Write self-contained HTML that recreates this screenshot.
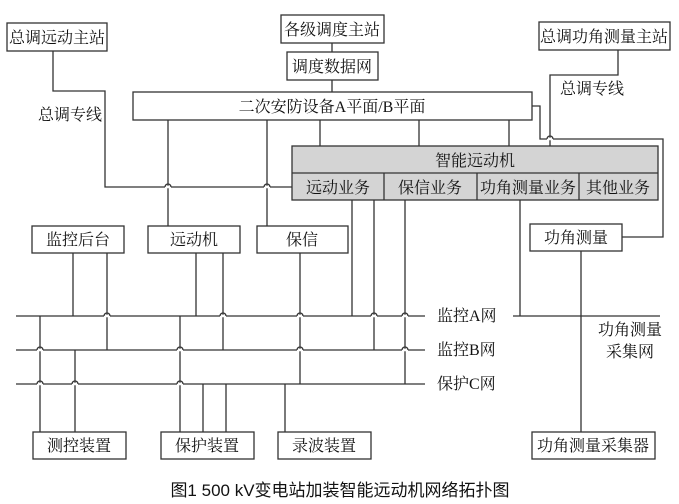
<!DOCTYPE html>
<html><head><meta charset="utf-8"><style>
html,body{margin:0;padding:0;background:#fff;}
svg{display:block;}
text{font-family:"Liberation Serif","Noto Serif CJK SC",serif;font-size:16px;fill:#111;}
.cap{font-family:"Liberation Sans","Noto Sans CJK SC",sans-serif;font-size:17px;}
</style></head><body>
<svg width="679" height="504" viewBox="0 0 679 504" xmlns="http://www.w3.org/2000/svg">
<g stroke="#333" stroke-width="1.3" fill="none">
<rect x="7" y="23" width="100" height="28" fill="#fff"/>
<rect x="281" y="15" width="103" height="28" fill="#fff"/>
<rect x="287" y="52" width="91" height="28" fill="#fff"/>
<rect x="539" y="22" width="131" height="28" fill="#fff"/>
<rect x="133" y="92" width="399" height="28" fill="#fff"/>
<line x1="332" y1="43" x2="332" y2="52"/>
<line x1="332" y1="80" x2="332" y2="92"/>
<polyline points="53,51 53,91 105,91 105,187 292,187"/>
<line x1="168" y1="120" x2="168" y2="226"/>
<line x1="267" y1="120" x2="267" y2="226"/>
<line x1="320" y1="120" x2="320" y2="146"/>
<line x1="419" y1="120" x2="419" y2="146"/>
<line x1="509" y1="120" x2="509" y2="146"/>
<polyline points="532,106 540,106 540,139 663,139 663,237 622,237"/>
<polyline points="618,50 618,75 550,75 550,146"/>
<rect x="292" y="146" width="366" height="54" fill="#d4d4d4"/>
<line x1="292" y1="173" x2="658" y2="173"/>
<line x1="384" y1="173" x2="384" y2="200"/>
<line x1="477" y1="173" x2="477" y2="200"/>
<line x1="579" y1="173" x2="579" y2="200"/>
<rect x="32" y="226" width="92" height="27" fill="#fff"/>
<rect x="148" y="226" width="92" height="27" fill="#fff"/>
<rect x="257" y="226" width="91" height="27" fill="#fff"/>
<rect x="530" y="224" width="92" height="27" fill="#fff"/>
<line x1="16" y1="316" x2="425" y2="316"/>
<line x1="16" y1="350" x2="425" y2="350"/>
<line x1="16" y1="384" x2="425" y2="384"/>
<line x1="513" y1="316" x2="660" y2="316"/>
<line x1="73" y1="253" x2="73" y2="316"/>
<line x1="107" y1="253" x2="107" y2="350"/>
<line x1="196" y1="253" x2="196" y2="316"/>
<line x1="223" y1="253" x2="223" y2="350"/>
<line x1="300" y1="253" x2="300" y2="384"/>
<line x1="352" y1="200" x2="352" y2="316"/>
<line x1="374" y1="200" x2="374" y2="350"/>
<line x1="405" y1="200" x2="405" y2="384"/>
<line x1="520" y1="200" x2="520" y2="316"/>
<line x1="581" y1="251" x2="581" y2="432"/>
<line x1="40" y1="316" x2="40" y2="432"/>
<line x1="75" y1="350" x2="75" y2="432"/>
<line x1="180" y1="316" x2="180" y2="432"/>
<line x1="203" y1="384" x2="203" y2="432"/>
<line x1="226" y1="384" x2="226" y2="432"/>
<line x1="285" y1="384" x2="285" y2="432"/>
<rect x="33" y="432" width="93" height="27" fill="#fff"/>
<rect x="161" y="432" width="93" height="27" fill="#fff"/>
<rect x="278" y="432" width="93" height="27" fill="#fff"/>
<rect x="532" y="432" width="123" height="27" fill="#fff"/>
</g>
<g fill="none" stroke-width="1.3">
<g stroke="#fff" stroke-width="2.5">
<line x1="165" y1="187" x2="171" y2="187"/><line x1="264" y1="187" x2="270" y2="187"/>
<line x1="547" y1="139" x2="553" y2="139"/>
<line x1="104" y1="316" x2="110" y2="316"/><line x1="220" y1="316" x2="226" y2="316"/>
<line x1="297" y1="316" x2="303" y2="316"/><line x1="371" y1="316" x2="377" y2="316"/>
<line x1="402" y1="316" x2="408" y2="316"/>
<line x1="297" y1="350" x2="303" y2="350"/><line x1="402" y1="350" x2="408" y2="350"/>
<line x1="37" y1="350" x2="43" y2="350"/><line x1="177" y1="350" x2="183" y2="350"/>
<line x1="37" y1="384" x2="43" y2="384"/><line x1="72" y1="384" x2="78" y2="384"/>
<line x1="177" y1="384" x2="183" y2="384"/>
</g>
<g stroke="#333">
<path d="M165 187 A3 3 0 0 1 171 187 M264 187 A3 3 0 0 1 270 187 M547 139 A3 3 0 0 1 553 139"/>
<path d="M104 316 A3 3 0 0 1 110 316 M220 316 A3 3 0 0 1 226 316 M297 316 A3 3 0 0 1 303 316 M371 316 A3 3 0 0 1 377 316 M402 316 A3 3 0 0 1 408 316"/>
<path d="M297 350 A3 3 0 0 1 303 350 M402 350 A3 3 0 0 1 408 350 M37 350 A3 3 0 0 1 43 350 M177 350 A3 3 0 0 1 183 350"/>
<path d="M37 384 A3 3 0 0 1 43 384 M72 384 A3 3 0 0 1 78 384 M177 384 A3 3 0 0 1 183 384"/>
</g>
</g>
<g text-anchor="middle">
<text x="57" y="43">总调远动主站</text>
<text x="332" y="35">各级调度主站</text>
<text x="332" y="72">调度数据网</text>
<text x="604" y="42">总调功角测量主站</text>
<text x="332" y="112">二次安防设备A平面/B平面</text>
<text x="475" y="166">智能远动机</text>
<text x="338" y="193">远动业务</text>
<text x="430" y="193">保信业务</text>
<text x="528" y="193">功角测量业务</text>
<text x="618" y="193">其他业务</text>
<text x="78" y="245">监控后台</text>
<text x="194" y="245">远动机</text>
<text x="302" y="245">保信</text>
<text x="576" y="243">功角测量</text>
<text x="79" y="451">测控装置</text>
<text x="207" y="451">保护装置</text>
<text x="324" y="451">录波装置</text>
<text x="593" y="451">功角测量采集器</text>
<text x="630" y="335">功角测量</text>
<text x="630" y="357">采集网</text>
</g>
<text x="38" y="120">总调专线</text>
<text x="560" y="94">总调专线</text>
<text x="437" y="321">监控A网</text>
<text x="437" y="355">监控B网</text>
<text x="437" y="389">保护C网</text>
<text class="cap" x="340" y="496" text-anchor="middle">图1   500 kV变电站加装智能远动机网络拓扑图</text>
</svg>
</body></html>
